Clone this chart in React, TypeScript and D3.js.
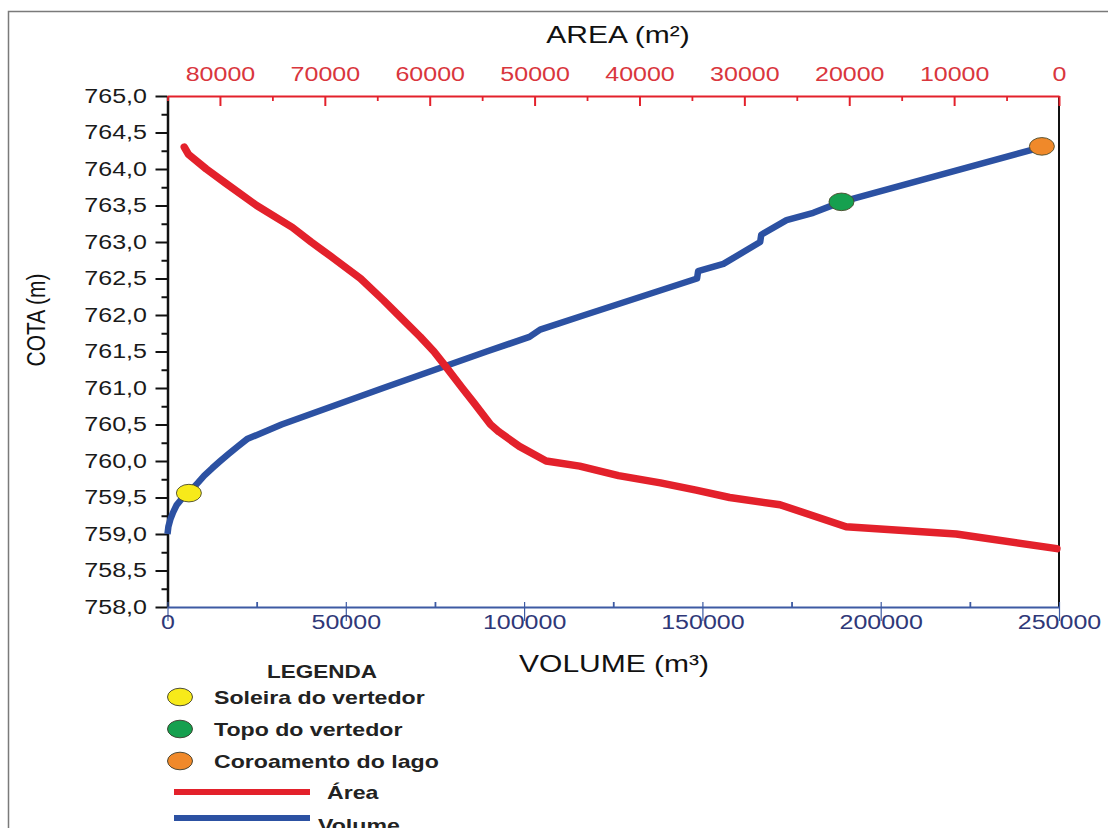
import {
  axisBottom,
  axisLeft,
  axisTop,
  format,
  line,
  range,
  scaleLinear,
  select,
} from "d3";
import { useEffect, useRef } from "react";

const WIDTH = 1108;
const HEIGHT = 828;
const FONT = "'Liberation Sans', Arial, Helvetica, sans-serif";
const SX = 1.25; // the source picture is stretched sideways

// cota (m) -> area (m²)
const AREA_COTA = [
  764.3, 764.2, 764.0, 763.8, 763.5, 763.2, 763.0, 762.8, 762.5, 762.2, 762.0,
  761.7, 761.5, 761.3, 761.0, 760.8, 760.5, 760.4, 760.2, 760.0, 759.93, 759.8,
  759.7, 759.6, 759.5, 759.4, 759.1, 759.0, 758.8,
];
const AREA_M2 = [
  83400, 83000, 81300, 79400, 76500, 73100, 71300, 69400, 66600, 64400, 63000,
  60900, 59600, 58500, 56900, 55800, 54200, 53400, 51450, 48900, 45700, 42000,
  38000, 34600, 31400, 26600, 20300, 9800, 200,
];

// cota (m) -> volume (m³)
const VOL_COTA = [
  759.0, 759.1, 759.2, 759.3, 759.4, 759.5, 759.6, 759.7, 759.8, 759.9, 760.0,
  760.1, 760.2, 760.3, 760.5, 761.0, 761.5, 761.7, 761.8, 762.0, 762.5, 762.6,
  762.7, 763.0, 763.1, 763.3, 763.4, 763.55, 764.3,
];
const VOL_M3 = [
  0, 250, 800, 1600, 2600, 4300, 6600, 8500, 10300, 12500, 14800, 17200, 19700,
  22300, 32000, 60500, 89500, 101500, 104500, 117000, 148500, 148800, 155900,
  166200, 166500, 173600, 181100, 189000, 245200,
];

const COTA_MAJOR = range(0, 15).map((i) => 758 + i * 0.5);
const COTA_MINOR = range(0, 14).map((i) => 758.25 + i * 0.5);
const AREA_MAJOR = range(0, 9).map((i) => i * 10000);
const AREA_MINOR = range(0, 9).map((i) => 5000 + i * 10000);
const VOL_MAJOR = range(0, 6).map((i) => i * 50000);
const VOL_MINOR = range(0, 5).map((i) => 25000 + i * 50000);

const MARKERS = [
  { label: "Soleira do vertedor", volume: 6000, cota: 759.56, color: "#f7ea1a" },
  { label: "Topo do vertedor", volume: 189000, cota: 763.55, color: "#16a04f" },
  { label: "Coroamento do lago", volume: 245200, cota: 764.31, color: "#f0892a" },
];

const RED = "#e3212b";
const BLUE = "#2c51a2";

const App = () => {
  const ref = useRef<SVGSVGElement>(null);

  useEffect(() => {
    if (!ref.current) return;
    const svg = select(ref.current);
    svg.selectAll("*").remove();

    const left = 167.5;
    const right = 1059;
    const top = 96;
    const bottom = 607;

    const y = scaleLinear().domain([758, 765]).range([bottom, top]);
    const vx = scaleLinear().domain([0, 250000]).range([left, right]);
    const ax = scaleLinear().domain([85000, 0]).range([left, right]);

    svg.append("rect").attr("width", WIDTH).attr("height", HEIGHT).attr("fill", "#fff");

    // frame
    svg
      .append("path")
      .attr("d", `M8.5,${HEIGHT + 5}V11.5H${WIDTH + 5}`)
      .attr("fill", "none")
      .attr("stroke", "#7a7a7a")
      .attr("stroke-width", 1.5);

    const styleTicks = (g: any, color: string) => {
      g.attr("font-family", FONT).attr("font-size", 20);
      g.selectAll("text").attr("fill", color).attr("transform", `scale(${SX},1)`);
    };

    // left axis
    const gLeft = svg.append("g").attr("transform", `translate(${left},0)`);
    gLeft.call(
      axisLeft(y)
        .tickValues(COTA_MINOR)
        .tickSize(6)
        .tickSizeOuter(0)
        .tickFormat(() => "")
    );
    gLeft.select(".domain").remove();
    gLeft.selectAll("line").attr("stroke", "#111").attr("stroke-width", 2);

    const gLeftMaj = svg.append("g").attr("transform", `translate(${left},0)`);
    gLeftMaj.call(
      axisLeft(y)
        .tickValues(COTA_MAJOR)
        .tickSize(12)
        .tickSizeOuter(0)
        .tickFormat((d) => format(".1f")(d as number).replace(".", ","))
    );
    styleTicks(gLeftMaj, "#1a1a1a");
    gLeftMaj.selectAll("text").attr("x", -16.5);
    gLeftMaj.selectAll("line").attr("stroke", "#111").attr("stroke-width", 2);
    gLeftMaj.select(".domain").attr("stroke", "#111").attr("stroke-width", 2.5);

    // right border of plot
    svg
      .append("line")
      .attr("x1", right)
      .attr("x2", right)
      .attr("y1", top)
      .attr("y2", bottom)
      .attr("stroke", "#111")
      .attr("stroke-width", 2);

    // top axis: area
    const gTopMin = svg.append("g").attr("transform", `translate(0,${top})`);
    gTopMin.call(
      axisTop(ax).tickValues(AREA_MINOR).tickSize(-5).tickSizeOuter(0).tickFormat(() => "")
    );
    gTopMin.select(".domain").remove();
    gTopMin.selectAll("line").attr("stroke", RED).attr("stroke-width", 1.8);

    const gTop = svg.append("g").attr("transform", `translate(0,${top})`);
    gTop.call(
      axisTop(ax)
        .tickValues(AREA_MAJOR)
        .tickSize(-10)
        .tickSizeOuter(0)
        .tickPadding(15)
        .tickFormat((d) => String(d))
    );
    styleTicks(gTop, "#d9363d");
    gTop.selectAll("line").attr("stroke", RED).attr("stroke-width", 2);
    gTop.select(".domain").attr("stroke", RED).attr("stroke-width", 2);

    // bottom axis: volume
    const gBotMin = svg.append("g").attr("transform", `translate(0,${bottom})`);
    gBotMin.call(
      axisBottom(vx).tickValues(VOL_MINOR).tickSize(-5).tickSizeOuter(0).tickFormat(() => "")
    );
    gBotMin.select(".domain").remove();
    gBotMin.selectAll("line").attr("stroke", "#3d5aa3").attr("stroke-width", 1.8);

    const gBot = svg.append("g").attr("transform", `translate(0,${bottom})`);
    gBot.call(
      axisBottom(vx)
        .tickValues(VOL_MAJOR)
        .tickSize(-5)
        .tickSizeOuter(0)
        .tickPadding(8)
        .tickFormat((d) => String(d))
    );
    styleTicks(gBot, "#2f3878");
    gBot.selectAll("line").attr("y1", 14).attr("stroke", "#3d5aa3").attr("stroke-width", 1.2);
    gBot.select(".domain").attr("stroke", "#3d5aa3").attr("stroke-width", 2);

    // axis titles
    const title = (x: number, yy: number, text: string) =>
      svg
        .append("text")
        .attr("transform", `translate(${x},${yy}) scale(${SX},1)`)
        .attr("text-anchor", "middle")
        .attr("font-family", FONT)
        .attr("font-size", 24)
        .attr("fill", "#111")
        .text(text);

    title(618, 43, "AREA (m²)");
    title(614, 672, "VOLUME (m³)");
    svg
      .append("text")
      .attr("transform", `translate(45,320) scale(${SX},1) rotate(-90)`)
      .attr("text-anchor", "middle")
      .attr("font-family", FONT)
      .attr("font-size", 21)
      .attr("fill", "#111")
      .text("COTA (m)");

    // curves
    const volData = VOL_COTA.map((c, i) => [c, VOL_M3[i]] as [number, number]);
    const areaData = AREA_COTA.map((c, i) => [c, AREA_M2[i]] as [number, number]);

    svg
      .append("path")
      .attr(
        "d",
        line<[number, number]>()
          .x((d) => vx(d[1]))
          .y((d) => y(d[0]))(volData)
      )
      .attr("fill", "none")
      .attr("stroke", BLUE)
      .attr("stroke-width", 6.5)
      .attr("stroke-linejoin", "round");

    svg
      .append("path")
      .attr(
        "d",
        line<[number, number]>()
          .x((d) => ax(d[1]))
          .y((d) => y(d[0]))(areaData)
      )
      .attr("fill", "none")
      .attr("stroke", RED)
      .attr("stroke-width", 7.5)
      .attr("stroke-linejoin", "round")
      .attr("stroke-linecap", "round");

    svg
      .selectAll(".marker")
      .data(MARKERS)
      .join("ellipse")
      .classed("marker", true)
      .attr("cx", (d) => vx(d.volume))
      .attr("cy", (d) => y(d.cota))
      .attr("rx", 12.5)
      .attr("ry", 8.8)
      .attr("fill", (d) => d.color)
      .attr("stroke", "#4a4a2a")
      .attr("stroke-width", 0.9);

    // legend
    const legend = svg.append("g").attr("font-family", FONT).attr("font-weight", "bold");
    legend
      .append("text")
      .attr("transform", `translate(322,678) scale(${SX},1)`)
      .attr("text-anchor", "middle")
      .attr("font-size", 18)
      .attr("fill", "#222")
      .text("LEGENDA");

    const rowY = [697, 729, 761];
    MARKERS.forEach((m, i) => {
      legend
        .append("ellipse")
        .attr("cx", 180)
        .attr("cy", rowY[i])
        .attr("rx", 12.5)
        .attr("ry", 8.8)
        .attr("fill", m.color)
        .attr("stroke", "#3a3a2a")
        .attr("stroke-width", 0.9);
      legend
        .append("text")
        .attr("transform", `translate(214,${rowY[i] + 6.5}) scale(${SX},1)`)
        .attr("font-size", 18.5)
        .attr("fill", "#222")
        .text(m.label);
    });

    const lines = [
      { label: "Área", color: RED, y: 792, tx: 327, ty: 798.5 },
      { label: "Volume", color: BLUE, y: 818, tx: 318, ty: 832 },
    ];
    lines.forEach((l) => {
      legend
        .append("line")
        .attr("x1", 174)
        .attr("x2", 310)
        .attr("y1", l.y)
        .attr("y2", l.y)
        .attr("stroke", l.color)
        .attr("stroke-width", 6);
      legend
        .append("text")
        .attr("transform", `translate(${l.tx},${l.ty}) scale(${SX},1)`)
        .attr("font-size", 18.5)
        .attr("fill", "#222")
        .text(l.label);
    });
  }, []);

  return (
    <svg
      ref={ref}
      width={WIDTH}
      height={HEIGHT}
      style={{ position: "absolute", left: 0, top: 0, display: "block" }}
    />
  );
};

export default App;
